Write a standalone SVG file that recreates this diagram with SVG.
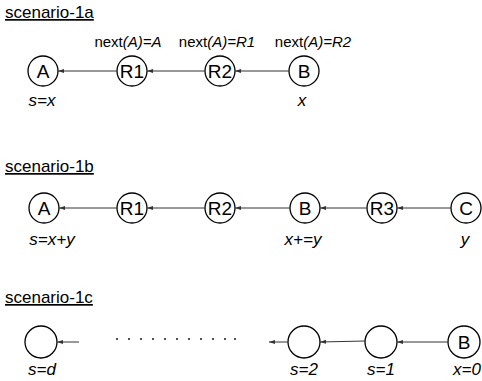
<svg xmlns="http://www.w3.org/2000/svg" width="482" height="381" viewBox="0 0 482 381">
<defs>
<style>
text{font-family:"Liberation Sans",Arial,sans-serif;fill:#000}
.title{font-size:17px;text-decoration:underline}
.node circle{fill:#fff;stroke:#000;stroke-width:1.3}
.node text{font-size:19px;text-anchor:middle}
.lbl{font-size:17px;font-style:italic;text-anchor:middle}
.nx{font-size:15px;text-anchor:middle}
.it{font-style:italic}
.edge{stroke:#333;stroke-width:1;fill:none;marker-end:url(#ah)}
.dot{fill:#000}
</style>
<marker id="ah" viewBox="0 0 6 6" refX="6" refY="3" markerWidth="6" markerHeight="6" markerUnits="userSpaceOnUse" orient="auto">
<path d="M0,1 L6,3 L0,5 Z" fill="#333"/>
</marker>
</defs>
<rect width="482" height="381" fill="#fff"/>

<!-- scenario 1a -->
<text class="title" x="5" y="18">scenario-1a</text>
<text class="nx" x="128" y="47">next<tspan class="it">(A)=A</tspan></text>
<text class="nx" x="217" y="47">next<tspan class="it">(A)=R1</tspan></text>
<text class="nx" x="313" y="47">next<tspan class="it">(A)=R2</tspan></text>
<g id="a1-A" class="node"><circle cx="43" cy="71" r="15"/><text x="43" y="78">A</text></g>
<g id="a1-R1" class="node"><circle cx="132" cy="71" r="15"/><text x="132" y="78">R1</text></g>
<g id="a1-R2" class="node"><circle cx="220" cy="71" r="15"/><text x="220" y="78">R2</text></g>
<g id="a1-B" class="node"><circle cx="304" cy="71" r="15"/><text x="304" y="78">B</text></g>
<text class="lbl" x="42" y="106">s=x</text>
<text class="lbl" x="302" y="106">x</text>

<!-- scenario 1b -->
<text class="title" x="5" y="172">scenario-1b</text>
<g id="b-A" class="node"><circle cx="44" cy="208" r="15"/><text x="44" y="215">A</text></g>
<g id="b-R1" class="node"><circle cx="132" cy="208" r="15"/><text x="132" y="215">R1</text></g>
<g id="b-R2" class="node"><circle cx="220" cy="208" r="15"/><text x="220" y="215">R2</text></g>
<g id="b-B" class="node"><circle cx="305" cy="208" r="15"/><text x="305" y="215">B</text></g>
<g id="b-R3" class="node"><circle cx="382" cy="208" r="15"/><text x="382" y="215">R3</text></g>
<g id="b-C" class="node"><circle cx="466" cy="208" r="15"/><text x="466" y="215">C</text></g>
<text class="lbl" x="52" y="245">s=x+y</text>
<text class="lbl" x="303" y="245">x+=y</text>
<text class="lbl" x="465" y="245">y</text>

<!-- scenario 1c -->
<text class="title" x="5" y="303">scenario-1c</text>
<g id="c-d" class="node"><circle cx="41" cy="342" r="16"/></g>
<g id="c-2" class="node"><circle cx="304" cy="342" r="16"/></g>
<g id="c-1" class="node"><circle cx="381" cy="342" r="16"/></g>
<g id="c-B" class="node"><circle cx="464" cy="342" r="16"/><text x="464" y="349">B</text></g>
<text class="lbl" x="42" y="375">s=d</text>
<text class="lbl" x="304" y="375">s=2</text>
<text class="lbl" x="381" y="375">s=1</text>
<text class="lbl" x="481" y="375" style="text-anchor:end">x=0</text>
<g id="dots">
<circle class="dot" cx="117" cy="339" r="0.9"/><circle class="dot" cx="129" cy="339" r="0.9"/><circle class="dot" cx="141" cy="339" r="0.9"/><circle class="dot" cx="153" cy="339" r="0.9"/><circle class="dot" cx="165" cy="339" r="0.9"/><circle class="dot" cx="177" cy="339" r="0.9"/><circle class="dot" cx="189" cy="339" r="0.9"/><circle class="dot" cx="201" cy="339" r="0.9"/><circle class="dot" cx="213" cy="339" r="0.9"/><circle class="dot" cx="225" cy="339" r="0.9"/><circle class="dot" cx="235" cy="339" r="0.9"/>
</g>

<g id="connectors">
<line class="edge" x1="117" y1="71" x2="58" y2="71"/>
<line class="edge" x1="205" y1="71" x2="147" y2="71"/>
<line class="edge" x1="289" y1="71" x2="235" y2="71"/>
<line class="edge" x1="117" y1="208" x2="59" y2="208"/>
<line class="edge" x1="205" y1="208" x2="147" y2="208"/>
<line class="edge" x1="290" y1="208" x2="235" y2="208"/>
<line class="edge" x1="367" y1="208" x2="320" y2="208"/>
<line class="edge" x1="451" y1="208" x2="397" y2="208"/>
<line class="edge" x1="79" y1="342" x2="57" y2="342"/>
<line class="edge" x1="288" y1="342" x2="269" y2="342"/>
<line class="edge" x1="365" y1="341" x2="320" y2="342"/>
<line class="edge" x1="448" y1="342" x2="397" y2="342"/>
</g>
</svg>
